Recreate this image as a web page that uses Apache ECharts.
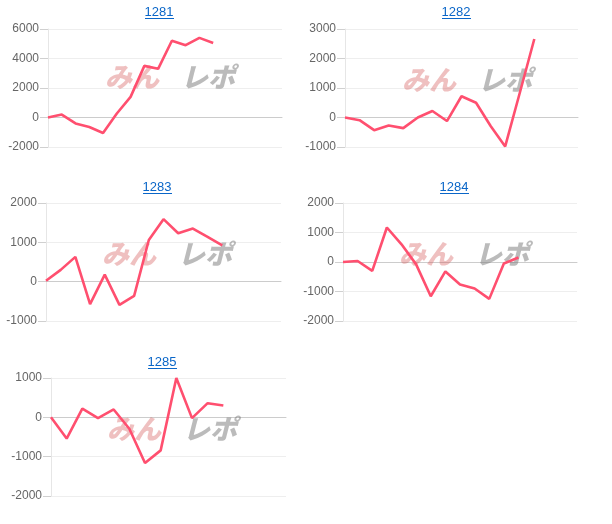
<!DOCTYPE html>
<html><head><meta charset="utf-8">
<script src="https://cdn.jsdelivr.net/npm/echarts@6/dist/echarts.min.js"></script>
<style>html,body{margin:0;padding:0;background:#fff}#c{width:612px;height:524px}</style>
</head><body><div id="c"></div>
<script>
var titles = ['1281','1282','1283','1284','1285'];
var catCounts = [18, 17, 17, 17, 16];
var s1281 = [0, 200, -400, -640, -1050, 270, 1400, 3500, 3300, 5200, 4900, 5400, 5050];
var s1282 = [0, -90, -430, -270, -360, 0, 220, -120, 720, 500, -290, -980, 830, 2660];
var s1283 = [25, 300, 630, -570, 180, -590, -360, 1060, 1590, 1230, 1350, 1140, 920];
var s1284 = [0, 35, -300, 1170, 600, -80, -1160, -320, -760, -900, -1250, -50, 150];
var s1285 = [0, -540, 220, -20, 200, -290, -1160, -840, 1000, -20, 360, 300];
var yMin = [-2000, -1000, -1000, -2000, -2000];
var yMax = [6000, 3000, 2000, 2000, 1000];
var yStep = [2000, 1000, 1000, 1000, 1000];
var seriesData = [s1281, s1282, s1283, s1284, s1285];

var grids = [
  {left:48, width:234, top:29, height:118},
  {left:345, width:233, top:29, height:118},
  {left:46, width:235, top:203, height:118},
  {left:343, width:234, top:203, height:118},
  {left:51, width:235, top:378, height:118}
];
var titlePos = [[159,12],[456,12],[157,187],[454,187],[162,362]];
var wmPos = [[105,63],[402,66],[102,240],[399,240],[107,415]];

var chart = echarts.init(document.getElementById('c'), null, {renderer:'canvas'});
var xAxes = [], yAxes = [], series = [], graphics = [];
for (var i = 0; i < 5; i++) {
  var cats = [];
  for (var k = 0; k < catCounts[i]; k++) cats.push(String(k + 1));
  xAxes.push({type:'category', gridIndex:i, data:cats, boundaryGap:false,
    axisLine:{onZero:true, lineStyle:{color:'#cccccc'}}, axisTick:{show:false},
    axisLabel:{show:false}, splitLine:{show:false}});
  yAxes.push({type:'value', gridIndex:i, min:yMin[i], max:yMax[i], interval:yStep[i],
    axisLine:{show:true, lineStyle:{color:'#e6e6e6'}},
    axisTick:{show:true, length:8, lineStyle:{color:'#d0d0d0'}},
    axisLabel:{color:'#666666', fontSize:12, fontFamily:'Liberation Sans, Arial, sans-serif', margin:9,
      formatter:function(v){return String(v);}},
    splitLine:{lineStyle:{color:'#eeeeee'}}});
  series.push({type:'line', xAxisIndex:i, yAxisIndex:i, data:seriesData[i], showSymbol:false,
    symbol:'none', lineStyle:{color:'#ff4f6f', width:2.6}, itemStyle:{color:'#ff4f6f'}, z:5});
  var tp = titlePos[i];
  graphics.push({type:'text', x:tp[0], y:tp[1], z:10,
    style:{text:titles[i], fill:'#0a66c8', font:'13px "Liberation Sans", Arial, sans-serif',
      textAlign:'center', textVerticalAlign:'middle', align:'center', verticalAlign:'middle'}});
  graphics.push({type:'rect', left:tp[0]-14, top:tp[1]+6, z:10, shape:{width:29, height:1}, style:{fill:'#0a66c8'}});
  var wp = wmPos[i];
  graphics.push({type:'text', left:wp[0], top:wp[1], z:1, silent:true,
    style:{text:'みん', fill:'rgba(214,90,90,0.38)', font:'italic 900 27px "Noto Sans CJK JP", sans-serif'}});
  graphics.push({type:'text', left:wp[0]+76, top:wp[1], z:1, silent:true,
    style:{text:'レポ', fill:'rgba(120,120,120,0.5)', font:'italic 900 27px "Noto Sans CJK JP", sans-serif'}});
}
chart.setOption({
  animation:false,
  backgroundColor:'#ffffff',
  grid:grids, xAxis:xAxes, yAxis:yAxes, series:series, graphic:graphics
});
</script></body></html>
